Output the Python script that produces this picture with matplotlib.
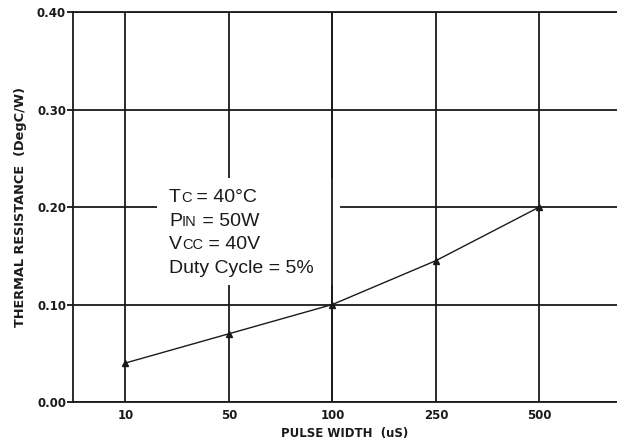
import matplotlib
matplotlib.use('Agg')
import matplotlib.pyplot as plt
from matplotlib.patches import Rectangle

plt.rcParams['font.family'] = ['Liberation Sans', 'DejaVu Sans']

# data
pulse_labels = ['10', '50', '100', '250', '500']
thermal_res = [0.04, 0.07, 0.10, 0.145, 0.20]
y_ticks = [0.00, 0.10, 0.20, 0.30, 0.40]

fig = plt.figure(figsize=(6.17, 4.47), dpi=100)
ax = fig.add_axes([0.1183, 0.1007, 0.8817, 0.8723])

x = range(len(pulse_labels))
ax.plot(x, thermal_res, color='#1a1a1a', lw=1.0, marker='^', ms=4.5, zorder=3)

ax.set_xlim(-0.507, 4.75)
ax.set_ylim(0, 0.40)
bold = dict(family='DejaVu Sans', fontsize=8.5, fontweight='bold', color='#1a1a1a')
ax.set_xticks(list(x))
ax.set_xticklabels(pulse_labels, **bold)
ax.set_yticks(y_ticks)
ax.set_yticklabels(['%.2f' % v for v in y_ticks], **bold)
ax.tick_params(axis='x', length=0, pad=5)
ax.tick_params(axis='y', length=4, width=1.2, pad=1)

ax.grid(True, color='#1a1a1a', lw=1.3, zorder=0.5)
ax.set_axisbelow(True)
for s in ['left', 'bottom', 'top']:
    ax.spines[s].set_linewidth(1.3)
    ax.spines[s].set_color('#1a1a1a')
ax.spines['right'].set_visible(False)

ax.set_xlabel('PULSE WIDTH  (uS)', labelpad=4, **bold)
ax.set_ylabel('THERMAL RESISTANCE  (DegC/W)', labelpad=7, family='DejaVu Sans',
              fontsize=9.3, fontweight='bold', color='#1a1a1a')

# white box behind the conditions text
ax.add_patch(Rectangle((0.154, 0.30), 0.337, 0.274, transform=ax.transAxes,
                       facecolor='white', edgecolor='none', zorder=1))
# the 100 gridline stays visible over the box
ax.axvline(2, color='#1a1a1a', lw=1.3, zorder=2)

lines = [
    [('T', 14), ('C', 10.5), (' = 40°C', 14)],
    [('P', 14), ('IN', 10.5), (' = 50W', 14)],
    [('V', 14), ('CC', 10.5), (' = 40V', 14)],
    [('Duty Cycle = 5%', 14)],
]
fig.canvas.draw()
renderer = fig.canvas.get_renderer()
x0 = 169
y0 = 447 - 202
for i, parts in enumerate(lines):
    xp = x0
    yp = y0 - i * 23.7
    for txt, size in parts:
        t = fig.text(xp / 617, yp / 447, txt, fontsize=size, color='#1a1a1a',
                     ha='left', va='baseline', zorder=5)
        bb = t.get_window_extent(renderer)
        xp += bb.width

fig.savefig('out.png', dpi=100)
